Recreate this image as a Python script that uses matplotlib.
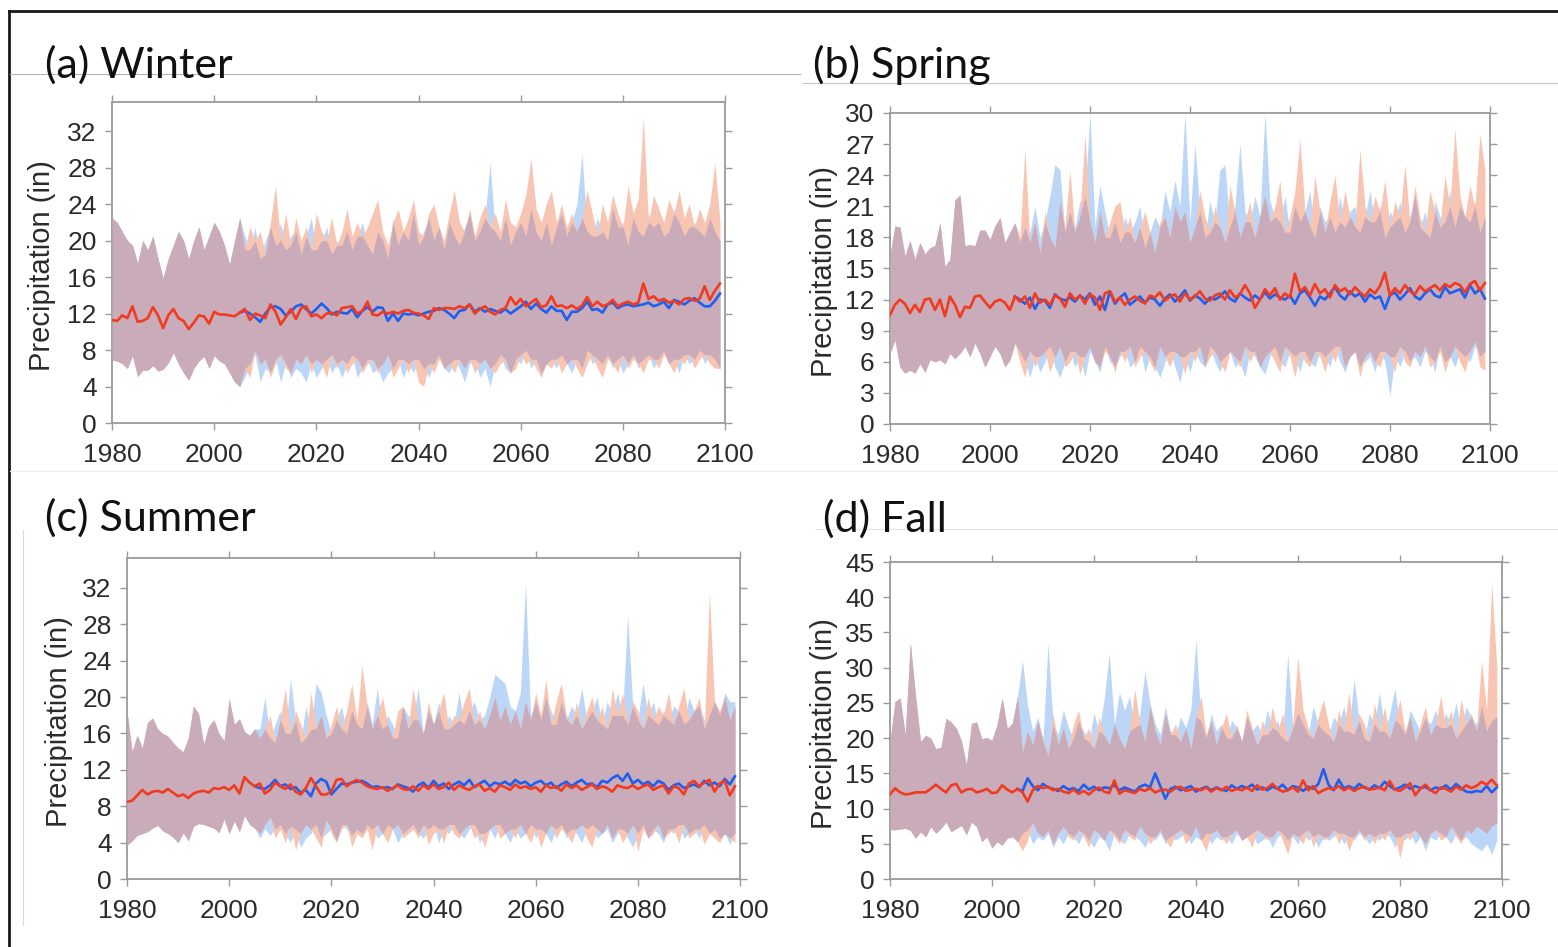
import numpy as np
import matplotlib
matplotlib.use("Agg")
import matplotlib.pyplot as plt
from matplotlib.lines import Line2D

# seasonal precipitation, ensemble mean with spread band (inches)
# 1980-2005 is the shared historical run, 2006-2099 splits into two scenarios
years = np.arange(1980, 2100)
n_hist = 26

seasons = ["(a) Winter", "(b) Spring", "(c) Summer", "(d) Fall"]

# ---------------- Winter ----------------
win_hist_mean = [11.3, 11.2, 11.8, 11.5, 12.8, 11.1, 11.2, 11.5, 12.7, 11.8, 10.4, 11.8, 12.5,
                 11.5, 11.2, 10.3, 11.0, 11.8, 11.7, 10.9, 12.2, 11.9, 11.9, 11.8, 11.7, 12.1]
win_hist_up = [22.5, 22.0, 21.0, 20.0, 19.5, 17.5, 20.0, 19.0, 20.5, 18.0, 15.9, 18.0, 19.5,
               21.0, 20.0, 18.0, 20.0, 21.5, 19.0, 20.5, 22.0, 21.0, 19.5, 17.4, 20.0, 22.5]
win_hist_lo = [6.9, 6.8, 6.5, 6.0, 7.4, 5.1, 5.8, 5.8, 6.3, 5.7, 5.9, 6.6, 7.7,
               6.5, 5.5, 4.7, 6.0, 6.8, 7.3, 6.0, 7.4, 6.8, 6.5, 5.5, 4.5, 4.0]
win_blue_mean = [12.3, 12.0, 11.6, 11.1, 12.0, 12.7, 12.8, 12.5, 11.8, 12.2,
                 12.8, 13.0, 12.5, 12.0, 12.5, 13.1, 12.6, 11.9, 12.2, 12.1,
                 12.0, 12.5, 11.6, 12.3, 12.7, 12.2, 12.7, 12.6, 11.2, 12.0,
                 11.2, 12.0, 11.9, 12.0, 11.8, 12.0, 12.2, 12.3, 12.6, 12.4,
                 12.0, 11.5, 12.3, 12.4, 13.0, 12.2, 12.6, 12.2, 12.5, 12.3,
                 12.1, 12.5, 12.0, 12.4, 12.8, 13.3, 12.5, 13.1, 12.5, 12.1,
                 12.8, 12.3, 12.3, 11.3, 12.2, 12.2, 12.6, 13.3, 12.4, 12.5,
                 12.1, 13.0, 13.2, 12.6, 12.9, 13.0, 12.8, 12.9, 13.0, 13.2,
                 12.8, 13.0, 13.3, 12.6, 13.5, 13.3, 13.0, 13.4, 13.7, 13.2,
                 12.8, 12.8, 13.4, 14.2]
win_red_mean = [12.5, 11.3, 12.0, 11.8, 11.5, 13.0, 12.2, 10.8, 11.6, 12.5,
                11.4, 12.6, 12.8, 11.7, 11.9, 11.5, 12.0, 12.1, 11.8, 12.6,
                12.7, 12.8, 12.0, 12.3, 13.3, 11.9, 11.8, 12.2, 12.0, 12.2,
                12.0, 12.3, 12.4, 12.1, 12.0, 11.8, 11.4, 12.6, 12.4, 12.6,
                12.6, 12.5, 12.8, 12.6, 13.0, 12.0, 12.5, 12.8, 12.2, 11.9,
                12.4, 12.6, 13.8, 13.0, 13.6, 12.8, 13.2, 13.6, 12.7, 12.9,
                13.9, 12.8, 12.9, 12.6, 12.9, 12.5, 12.9, 13.8, 12.8, 13.3,
                12.8, 13.0, 13.5, 12.8, 13.1, 13.3, 13.0, 13.2, 15.3, 13.6,
                13.9, 13.4, 13.6, 13.2, 13.4, 13.0, 13.6, 13.7, 13.4, 13.6,
                15.0, 13.5, 14.5, 15.3]
win_blue_up = [20.5, 19.0, 21.5, 18.0, 20.0, 21.5, 19.5, 22.0, 19.0, 20.5,
               21.0, 18.5, 20.5, 22.5, 19.0, 20.0, 21.5, 18.5, 20.0, 19.5,
               21.0, 19.0, 20.5, 22.0, 19.5, 18.5, 21.0, 20.0, 18.0, 22.5,
               19.5, 21.0, 20.0, 23.0, 19.5, 21.0, 22.5, 20.0, 21.5, 19.0,
               22.0, 20.5, 19.5, 21.5, 23.0, 20.0, 21.0, 22.5, 28.5, 21.0,
               20.0, 22.5, 19.5, 21.0, 22.0, 20.5, 23.5, 21.0, 20.0, 22.0,
               19.5, 21.5, 23.0, 20.5, 22.0, 24.0, 29.5, 21.0, 20.5, 22.5,
               21.0, 20.0, 23.5, 21.5, 22.0, 19.5, 22.5, 21.0, 20.5, 23.0,
               21.5, 22.0, 20.5, 21.0, 23.5, 22.0, 20.5, 21.5, 22.0, 21.0,
               20.5, 22.5, 21.0, 20.0]
win_red_up = [19.0, 21.5, 20.0, 21.0, 18.5, 22.0, 26.0, 20.0, 23.0, 19.5,
              22.5, 20.0, 21.5, 19.0, 23.0, 21.0, 20.0, 22.5, 19.5, 21.0,
              23.5, 20.5, 22.0, 20.5, 21.5, 23.0, 24.5, 21.0, 19.5, 22.0,
              23.5, 21.0, 22.5, 24.5, 21.0, 20.5, 23.0, 24.0, 21.5, 20.0,
              23.0, 25.5, 22.0, 21.0, 23.5, 20.5, 22.5, 24.0, 21.5, 23.0,
              21.0, 24.5, 22.0, 21.5, 23.0, 25.0, 29.0, 23.5, 22.0, 24.0,
              25.5, 22.0, 24.0, 21.5, 23.0, 21.0, 22.5, 25.5, 23.0, 20.5,
              24.0, 22.0, 25.0, 23.0, 21.5, 26.0, 23.0, 24.5, 33.5, 22.0,
              25.0, 23.5, 22.0, 24.5, 23.0, 25.5, 22.5, 24.0, 21.5, 23.5,
              22.0, 24.0, 28.5, 22.0]
win_blue_lo = [5.0, 6.5, 7.5, 4.5, 6.0, 5.5, 7.0, 4.5, 6.5, 5.0,
               6.0, 5.5, 4.5, 6.5, 5.0, 6.0, 7.0, 5.5, 6.5, 5.0,
               6.5, 7.5, 5.0, 6.0, 7.0, 5.5, 6.0, 4.5, 5.5, 6.0,
               7.0, 5.0, 6.5, 5.5, 7.0, 6.0, 5.0, 6.5, 7.5, 6.0,
               5.5, 7.0, 6.0, 4.5, 6.5, 7.0, 5.0, 6.0, 4.0, 6.5,
               7.5, 6.0, 5.5, 7.0, 6.5, 8.0, 6.0, 7.0, 5.5, 6.5,
               7.0, 6.0, 7.5, 6.5, 5.5, 7.0, 6.0, 8.0, 6.5, 7.0,
               6.5, 7.5, 6.0, 7.0, 5.5, 6.5, 7.5, 6.0, 7.0, 7.5,
               6.0, 7.0, 8.0, 6.5, 7.0, 5.5, 7.5, 6.5, 7.0, 8.0,
               6.5, 7.5, 7.0, 6.0]
win_red_lo = [6.0, 5.0, 8.0, 6.5, 7.0, 5.0, 6.5, 7.5, 6.0, 5.5,
              7.0, 6.5, 7.5, 5.5, 7.0, 6.5, 5.0, 7.5, 6.0, 7.0,
              5.5, 6.5, 7.0, 5.5, 6.5, 7.0, 5.5, 6.5, 7.5, 5.0,
              6.0, 7.0, 5.5, 7.0, 4.5, 4.0, 6.5, 5.5, 7.0, 6.0,
              6.5, 5.5, 7.0, 6.0, 7.0, 5.5, 6.5, 7.0, 6.0, 5.5,
              6.5, 7.0, 5.5, 6.0, 7.5, 6.5, 7.0, 6.0, 5.0, 6.5,
              6.0, 7.0, 5.5, 6.5, 7.0, 6.0, 5.0, 6.5, 7.5, 6.0,
              5.0, 7.0, 6.5, 5.5, 7.5, 6.0, 7.0, 6.5, 5.5, 7.0,
              7.0, 6.0, 7.5, 6.5, 5.5, 7.0, 6.5, 7.5, 6.0, 7.0,
              7.5, 6.5, 6.0, 6.0]

# ---------------- Spring ----------------
spr_hist_mean = [10.5, 11.5, 12.0, 11.6, 10.7, 11.5, 10.8, 12.0, 12.1, 11.0, 12.0, 10.4, 12.3,
                 11.5, 10.3, 11.3, 11.2, 12.3, 12.4, 11.8, 11.2, 11.8, 12.0, 11.7, 11.0, 12.3]
spr_hist_up = [16.2, 19.1, 19.0, 16.2, 17.7, 15.9, 17.5, 16.4, 17.0, 17.2, 19.4, 15.2, 15.9,
               21.6, 22.1, 17.2, 17.3, 17.2, 18.7, 18.7, 17.8, 19.1, 19.9, 17.5, 18.5, 19.4]
spr_hist_lo = [6.8, 8.1, 5.5, 4.9, 5.2, 4.9, 5.8, 5.0, 6.2, 6.0, 6.2, 5.8, 6.8,
               6.3, 6.8, 7.5, 6.5, 7.8, 6.8, 5.5, 6.5, 7.5, 6.8, 5.5, 6.2, 7.8]
spr_blue_mean = [12.0, 11.6, 12.2, 11.1, 12.0, 11.9, 11.2, 12.5, 12.1, 11.9,
                 12.2, 11.8, 12.4, 12.0, 12.6, 11.5, 12.3, 11.0, 12.8, 11.6,
                 12.2, 12.6, 11.5, 11.9, 12.3, 11.7, 12.2, 12.0, 11.4, 12.1,
                 12.5, 11.8, 12.3, 12.9, 11.9, 12.4, 12.1, 11.6, 12.2, 12.0,
                 12.3, 12.8, 12.1, 11.8, 12.6, 12.2, 11.9, 12.4, 12.0, 12.7,
                 12.1, 12.5, 12.2, 12.0, 12.4, 11.6, 12.6, 12.9, 12.2, 11.4,
                 12.3, 12.0, 12.6, 13.2, 12.4, 12.0, 12.8, 12.3, 12.6, 11.8,
                 12.5, 12.1, 12.3, 11.1, 12.4, 12.7, 12.0, 12.5, 13.1, 12.3,
                 12.0, 12.6, 13.0, 12.4, 12.2, 13.2, 12.6, 12.8, 13.0, 12.2,
                 13.4, 12.6, 13.0, 12.1]
spr_red_mean = [11.8, 12.3, 11.2, 12.6, 11.7, 12.0, 11.5, 12.4, 12.1, 11.3,
                12.6, 12.0, 12.4, 11.6, 12.5, 12.2, 11.0, 12.6, 12.8, 11.8,
                12.2, 11.5, 12.0, 12.3, 11.9, 11.6, 12.4, 12.2, 12.7, 11.9,
                12.3, 12.5, 11.8, 12.6, 12.0, 12.3, 12.8, 12.1, 11.9, 12.4,
                12.6, 12.0, 12.9, 12.2, 12.5, 13.4, 12.6, 11.2, 12.0, 13.0,
                12.4, 13.1, 12.0, 12.6, 12.2, 14.5, 12.8, 13.2, 12.4, 13.5,
                12.6, 13.0, 12.2, 13.4, 12.8, 13.1, 12.5, 13.2, 12.7, 12.3,
                13.0, 12.6, 13.3, 14.6, 12.4, 13.1, 12.6, 13.4, 12.8, 12.5,
                13.3, 12.8, 13.1, 13.4, 12.9, 13.5, 13.2, 13.6, 13.4, 12.7,
                13.5, 13.8, 12.9, 13.6]
spr_blue_up = [17.5, 19.0, 18.5, 21.0, 18.0, 19.5, 22.0, 25.0, 24.5, 18.5,
               20.5, 19.0, 21.5, 22.0, 30.0, 19.0, 23.0, 20.5, 18.0, 19.5,
               17.5, 20.0, 18.5, 19.5, 21.0, 17.0, 18.5, 20.0, 19.0, 22.5,
               20.5, 23.5, 21.0, 30.0, 19.5, 27.0, 20.5, 18.0, 21.5, 19.5,
               24.5, 25.0, 19.0, 21.0, 27.0, 20.5, 19.5, 22.0, 20.0, 30.0,
               21.5, 20.0, 19.5, 22.0, 18.5, 21.0, 19.5, 20.5, 22.5, 18.0,
               21.0, 19.5, 20.0, 18.5, 22.0, 19.0, 20.5, 21.0, 18.5, 20.0,
               22.5, 19.5, 21.0, 18.0, 20.5, 19.5, 21.5, 18.5, 20.0, 22.0,
               19.0, 20.5, 18.0, 21.5, 20.0, 19.5, 22.5, 19.0, 21.0, 20.0,
               19.5, 21.5, 18.5, 20.0]
spr_red_up = [18.0, 26.5, 17.5, 19.5, 16.5, 20.5, 18.0, 17.0, 21.5, 19.0,
              24.5, 18.5, 20.0, 28.0, 19.5, 17.5, 20.5, 18.0, 19.5, 21.0,
              21.5, 18.5, 20.0, 17.5, 19.0, 20.5, 18.5, 16.5, 19.5, 20.0,
              18.0, 21.0, 19.5, 20.5, 17.5, 19.0, 22.5, 20.0, 18.5, 21.0,
              19.0, 17.5, 23.0, 20.5, 18.0, 19.5, 21.5, 18.0, 20.0, 22.0,
              19.5, 21.0, 23.5, 18.5, 20.0, 22.5, 27.5, 20.5, 19.0, 24.0,
              20.5, 18.5, 21.5, 24.0, 19.5, 22.5, 20.0, 19.0, 26.5, 21.0,
              19.5, 22.0, 20.5, 23.5, 19.0, 21.5, 20.0, 25.0, 19.5, 23.0,
              20.0, 18.5, 22.5, 20.5, 19.0, 24.0, 21.0, 28.5, 22.0, 20.0,
              23.0, 21.0, 28.0, 24.5]
spr_blue_lo = [7.0, 6.0, 4.5, 6.5, 5.0, 6.0, 7.5, 5.5, 4.5, 6.0,
               7.0, 5.5, 6.5, 4.5, 7.0, 6.0, 5.0, 7.5, 6.0, 5.5,
               6.5, 7.0, 5.5, 6.0, 7.5, 5.0, 6.5, 5.5, 4.5, 6.0,
               7.0, 5.5, 4.0, 6.5, 5.0, 7.0, 6.0, 5.5, 7.5, 6.0,
               5.0, 6.5, 7.0, 5.5, 6.0, 4.5, 7.0, 6.5, 5.5, 4.8,
               6.5, 7.5, 6.0, 5.5, 7.0, 6.5, 5.0, 7.0, 6.0, 5.5,
               7.0, 6.5, 5.5, 7.5, 6.0, 5.0, 6.5, 7.0, 5.5, 6.0,
               6.5, 5.0, 7.0, 6.0, 2.7, 6.5, 5.5, 7.0, 6.0, 6.5,
               5.5, 7.0, 6.5, 5.0, 7.5, 6.0, 6.5, 5.5, 7.0, 6.5,
               6.0, 7.5, 6.5, 7.0]
spr_red_lo = [6.0, 4.5, 7.0, 5.5, 6.5, 7.0, 5.0, 6.5, 7.5, 5.5,
              6.0, 7.0, 4.8, 6.5, 7.5, 6.0, 5.5, 7.0, 6.5, 5.0,
              7.0, 6.0, 7.5, 5.5, 6.5, 7.0, 6.0, 5.0, 7.5, 6.5,
              5.5, 7.0, 6.5, 4.8, 7.0, 6.0, 7.5, 5.5, 6.5, 7.0,
              6.0, 5.0, 7.0, 6.5, 5.5, 7.5, 6.0, 7.0, 5.5, 6.5,
              7.0, 6.0, 5.0, 7.5, 6.5, 4.5, 7.0, 6.0, 5.5, 7.0,
              6.5, 5.0, 7.0, 6.0, 7.5, 5.5, 6.5, 7.0, 4.5, 6.5,
              7.0, 6.0, 5.5, 7.0, 6.5, 5.0, 7.5, 6.0, 5.5, 7.0,
              6.5, 7.5, 5.5, 6.0, 7.0, 5.0, 6.5, 7.5, 6.0, 5.0,
              7.0, 8.0, 5.5, 5.2]

# ---------------- Summer ----------------
sum_hist_mean = [8.5, 8.6, 9.2, 9.8, 9.3, 9.6, 9.7, 9.5, 9.9, 9.5, 9.1, 9.3, 8.9,
                 9.4, 9.6, 9.7, 9.5, 10.0, 9.9, 10.1, 9.8, 10.3, 9.4, 11.2, 10.6, 10.2]
sum_hist_up = [18.4, 14.0, 15.8, 14.4, 17.2, 17.7, 16.5, 16.0, 15.7, 15.0, 14.4, 14.0, 15.5,
               19.0, 18.2, 14.8, 16.8, 17.5, 16.0, 15.2, 19.8, 17.0, 17.6, 16.2, 15.8, 16.5]
sum_hist_lo = [3.7, 4.2, 4.8, 5.0, 5.2, 5.6, 5.9, 5.3, 5.0, 4.6, 4.0, 5.1, 4.2,
               5.8, 6.1, 6.0, 5.8, 5.6, 5.1, 6.6, 5.0, 6.4, 5.2, 7.0, 6.0, 5.6]
sum_blue_mean = [10.0, 9.9, 10.3, 10.9, 10.2, 10.4, 9.9, 10.1, 9.5, 9.8,
                 9.1, 10.5, 11.0, 10.7, 9.3, 9.9, 10.5, 10.4, 10.6, 10.7,
                 10.8, 10.5, 10.1, 10.2, 10.0, 10.1, 9.9, 10.4, 10.2, 10.0,
                 9.6, 10.3, 10.6, 10.0, 10.8, 10.2, 10.5, 9.9, 10.4, 10.7,
                 10.3, 10.9, 10.1, 10.5, 10.8, 10.2, 10.6, 10.4, 10.7, 10.3,
                 10.9, 10.5, 10.7, 10.2, 10.6, 10.8, 10.3, 10.6, 10.0, 10.4,
                 10.7, 10.2, 10.6, 10.9, 10.4, 10.5, 10.1, 10.8, 10.6, 11.1,
                 11.4, 10.8, 11.6, 10.5, 10.9, 10.4, 10.7, 10.2, 10.8, 10.5,
                 9.8, 10.3, 10.5, 10.0, 10.2, 10.4, 10.1, 10.8, 10.3, 10.6,
                 10.2, 11.0, 10.4, 11.3]
sum_red_mean = [10.5, 9.4, 9.8, 10.6, 10.2, 9.9, 10.4, 9.6, 9.3, 10.0,
                11.1, 10.2, 9.3, 9.3, 9.6, 10.9, 11.0, 10.2, 10.6, 10.9,
                10.6, 10.2, 10.0, 9.9, 10.1, 9.7, 10.0, 10.3, 9.9, 9.8,
                10.2, 9.7, 10.3, 9.9, 10.4, 9.9, 10.1, 10.6, 9.8, 10.3,
                10.0, 9.8, 10.2, 10.4, 9.7, 10.0, 9.6, 10.3, 10.1, 9.8,
                10.4, 10.0, 10.2, 9.9, 10.1, 9.6, 10.3, 10.0, 10.2, 9.7,
                10.4, 10.0, 10.3, 9.8, 10.1, 10.4, 9.9, 10.2, 10.0, 9.6,
                10.3, 10.1, 10.0, 10.3, 9.9, 10.2, 10.4, 9.8, 10.1, 10.3,
                9.4, 10.2, 10.0, 9.3, 10.5, 10.8, 10.2, 10.6, 10.9, 9.6,
                10.5, 10.8, 9.2, 10.2]
sum_blue_up = [16.5, 20.0, 15.5, 17.0, 18.5, 16.0, 22.0, 17.5, 15.0, 19.0,
               16.5, 21.5, 20.5, 18.0, 16.0, 17.5, 19.0, 16.0, 18.5, 17.0,
               16.5, 19.5, 17.0, 21.0, 16.5, 18.0, 17.0, 15.5, 19.0, 18.0,
               17.5, 21.0, 16.0, 18.5, 17.0, 19.5, 16.5, 18.0, 17.0, 20.5,
               17.0, 18.5, 19.5, 17.5, 18.0, 20.0, 22.5, 22.0, 21.5, 19.0,
               18.5, 20.5, 32.5, 18.0, 19.5, 17.5, 20.0, 18.5, 17.0, 19.5,
               17.5, 19.0, 18.0, 21.0, 17.5, 18.5, 20.0, 17.0, 19.5, 18.0,
               20.5, 18.0, 29.0, 19.0, 17.5, 21.5, 18.0, 19.5, 17.0, 18.5,
               17.5, 19.0, 18.5, 17.0, 20.0, 18.5, 19.0, 17.5, 18.0, 19.5,
               18.0, 20.5, 19.5, 19.5]
sum_red_up = [15.5, 16.5, 18.0, 15.0, 17.5, 21.0, 16.0, 18.5, 17.0, 15.5,
              20.5, 16.5, 18.0, 15.5, 17.0, 19.0, 16.5, 18.5, 21.5, 17.5,
              23.5, 19.0, 16.5, 18.0, 20.0, 17.0, 15.5, 18.5, 19.0, 16.5,
              21.0, 17.5, 16.0, 19.5, 17.0, 18.5, 20.5, 16.5, 18.0, 17.5,
              19.5, 21.0, 17.0, 18.5, 16.5, 18.0, 20.0, 17.5, 19.0, 17.0,
              18.5, 16.5, 19.5, 17.5, 20.5, 18.0, 22.0, 17.0, 19.5, 21.5,
              18.0, 17.0, 19.5, 16.5, 18.5, 20.0, 17.5, 19.0, 16.5, 21.0,
              18.0, 20.5, 17.0, 19.5, 18.5, 16.5, 20.0, 17.5, 19.0, 18.0,
              20.5, 17.0, 19.0, 21.0, 17.5, 18.5, 20.0, 16.5, 31.5, 19.5,
              18.5, 20.0, 17.5, 19.0]
sum_blue_lo = [4.5, 5.5, 4.8, 5.5, 6.0, 5.0, 4.0, 5.5, 3.5, 4.5,
               5.0, 6.0, 4.5, 5.0, 5.5, 4.2, 6.0, 5.5, 4.8, 5.5,
               5.0, 6.0, 5.5, 4.5, 5.0, 6.0, 5.5, 4.0, 5.0, 5.5,
               6.0, 5.0, 4.5, 5.5, 6.0, 4.0, 5.5, 5.0, 6.0, 5.0,
               4.5, 5.5, 6.0, 4.0, 5.0, 5.5, 4.5, 6.0, 5.0, 4.0,
               5.5, 4.5, 5.0, 6.0, 4.5, 5.5, 5.0, 4.0, 5.5, 6.0,
               4.5, 5.5, 5.0, 4.0, 5.5, 6.0, 4.5, 5.0, 5.5, 4.0,
               5.0, 5.5, 4.5, 3.5, 5.0, 6.0, 4.5, 5.5, 5.0, 4.0,
               5.5, 5.0, 6.0, 4.5, 5.0, 5.5, 4.5, 6.0, 5.0, 5.5,
               4.5, 5.0, 3.8, 5.0]
sum_red_lo = [5.0, 6.0, 6.8, 4.5, 5.5, 4.0, 5.8, 3.2, 5.0, 6.0,
              5.5, 4.5, 3.5, 6.5, 5.0, 4.0, 5.5, 6.0, 3.5, 5.0,
              4.5, 5.5, 3.2, 6.0, 5.0, 4.0, 5.5, 6.0, 4.5, 5.0,
              5.5, 4.5, 6.0, 3.8, 5.0, 5.5, 4.0, 6.0, 5.0, 4.5,
              5.5, 6.0, 4.5, 5.0, 3.5, 5.5, 6.0, 4.5, 5.0, 5.5,
              4.5, 6.0, 5.0, 4.0, 5.5, 3.5, 5.0, 6.0, 4.5, 5.5,
              5.0, 4.0, 5.5, 6.0, 4.5, 3.5, 5.5, 5.0, 6.0, 4.5,
              5.5, 4.0, 5.0, 6.0, 3.0, 5.5, 4.5, 5.0, 6.0, 4.5,
              5.0, 5.5, 4.0, 6.0, 4.5, 5.0, 5.5, 3.8, 5.0, 4.5,
              4.0, 5.0, 4.5, 4.0]

# ---------------- Fall ----------------
fal_hist_mean = [12.0, 12.9, 12.3, 12.0, 12.1, 12.3, 12.3, 12.3, 12.8, 13.4, 12.8, 12.3, 13.3,
                 13.5, 12.3, 12.7, 12.8, 12.3, 12.5, 12.8, 12.2, 12.3, 13.3, 12.7, 12.3, 12.8]
fal_hist_up = [19.5, 25.2, 25.7, 20.4, 33.5, 26.1, 19.5, 20.4, 20.0, 18.5, 18.7, 22.8, 22.3,
               21.4, 19.7, 16.2, 22.1, 22.3, 19.9, 20.1, 19.7, 21.9, 25.7, 21.4, 22.1, 25.9]
fal_hist_lo = [7.0, 7.0, 7.1, 7.2, 6.9, 5.8, 6.7, 6.0, 7.4, 6.5, 7.2, 8.1, 6.7,
               7.2, 7.6, 6.3, 8.1, 7.4, 5.3, 6.0, 4.4, 5.3, 4.8, 5.8, 6.0, 5.3]
fal_blue_mean = [12.5, 14.3, 13.2, 12.6, 13.5, 13.0, 12.8, 12.5, 13.2, 12.7,
                 12.9, 12.5, 13.4, 12.7, 13.1, 12.6, 13.0, 12.9, 13.3, 12.6,
                 13.0, 12.7, 12.4, 13.1, 13.4, 13.0, 15.0, 13.2, 11.4, 12.8,
                 13.1, 12.6, 12.9, 13.2, 12.4, 12.8, 13.1, 12.6, 13.0, 12.7,
                 12.5, 13.3, 12.8, 13.2, 12.9, 13.4, 12.7, 13.0, 12.6, 13.1,
                 12.8, 13.4, 12.6, 13.2, 13.0, 12.5, 13.1, 12.8, 13.5, 15.6,
                 13.4, 12.6, 14.1, 12.9, 13.2, 12.8, 13.5, 13.0, 12.7, 13.3,
                 12.9, 13.8, 13.2, 12.7, 13.0, 13.4, 12.8, 13.2, 12.9, 13.1,
                 12.6, 13.0, 12.8, 13.3, 12.7, 13.5, 12.9, 12.4, 12.3, 12.5,
                 12.4, 13.2, 12.3, 13.0]
fal_red_mean = [12.3, 11.0, 12.6, 13.2, 12.9, 13.1, 12.6, 12.8, 12.4, 12.2,
                12.7, 12.1, 12.5, 12.0, 12.6, 13.0, 12.4, 12.2, 14.0, 12.1,
                12.6, 12.4, 12.2, 12.8, 12.5, 12.9, 12.3, 12.6, 12.7, 12.4,
                12.9, 13.1, 12.5, 12.7, 12.8, 12.6, 13.0, 12.4, 12.9, 12.6,
                13.1, 12.5, 12.8, 12.6, 13.0, 12.5, 13.3, 12.7, 12.9, 13.5,
                12.8, 12.4, 12.6, 13.0, 12.4, 14.0, 12.6, 13.2, 12.2, 12.6,
                12.9, 12.7, 13.2, 12.6, 13.0, 12.5, 12.9, 13.1, 12.7, 12.8,
                13.0, 12.6, 13.9, 12.7, 12.5, 13.0, 13.6, 11.9, 12.8, 13.4,
                12.6, 12.2, 13.0, 12.8, 12.4, 13.1, 12.7, 13.3, 12.9, 13.2,
                13.8, 13.4, 14.1, 13.3]
fal_blue_up = [31.0, 24.5, 21.0, 23.0, 19.5, 33.5, 22.0, 20.5, 24.0, 21.5,
               20.0, 22.5, 21.0, 19.5, 23.5, 21.0, 25.5, 32.0, 22.0, 26.5,
               24.0, 26.0, 21.5, 23.5, 29.5, 25.0, 22.0, 20.5, 24.5, 21.0,
               20.5, 23.0, 21.5, 24.0, 34.0, 22.5, 20.0, 23.5, 21.0, 22.0,
               20.0, 22.5, 21.5, 19.5, 23.0, 21.0, 22.0, 20.5, 24.0, 21.5,
               22.5, 20.0, 32.0, 21.5, 23.5, 22.0, 20.5, 24.5, 22.0, 21.0,
               20.5, 23.0, 22.0, 24.5, 21.0, 28.5, 22.5, 20.0, 23.5, 22.0,
               26.5, 21.0, 23.5, 27.0, 22.0, 20.5, 24.0, 22.5, 21.0, 23.0,
               22.0, 24.0, 21.5, 23.5, 22.0, 25.0, 21.0, 24.5, 23.0, 22.0,
               24.5, 21.0, 22.5, 23.0]
fal_red_up = [18.0, 21.0, 19.0, 22.5, 20.0, 17.5, 23.5, 19.0, 21.5, 18.5,
              22.0, 24.0, 20.0, 21.5, 18.5, 23.0, 20.5, 19.0, 22.0, 20.0,
              18.5, 21.0, 27.0, 22.0, 19.5, 24.5, 21.0, 19.0, 23.5, 20.5,
              22.0, 19.5, 21.5, 18.5, 23.0, 26.0, 20.5, 22.5, 19.0, 21.5,
              23.5, 20.0, 22.0, 19.5, 24.0, 21.5, 19.0, 22.5, 20.5, 24.5,
              21.0, 23.5, 19.5, 22.0, 31.5, 24.0, 21.5, 20.0, 23.0, 25.5,
              22.0, 19.5, 24.0, 21.0, 26.5, 20.5, 23.5, 22.0, 19.5, 25.0,
              21.0, 24.5, 20.0, 22.5, 25.5, 21.0, 23.0, 19.5, 22.0, 24.5,
              20.5, 22.0, 26.0, 21.5, 24.0, 20.0, 25.5, 22.0, 23.5, 21.0,
              31.0, 24.0, 42.0, 30.0]
fal_blue_lo = [6.5, 7.0, 5.0, 6.0, 5.5, 6.5, 4.5, 6.0, 5.0, 6.5,
               6.0, 5.0, 6.5, 5.5, 4.5, 6.0, 5.5, 4.0, 6.5, 5.5,
               5.0, 6.5, 6.0, 5.5, 4.5, 6.0, 5.5, 6.5, 5.0, 6.0,
               5.5, 6.0, 6.5, 5.0, 6.0, 5.5, 6.5, 5.0, 6.0, 5.5,
               6.0, 5.0, 6.5, 5.5, 6.0, 6.5, 5.0, 5.5, 6.0, 4.5,
               6.0, 6.5, 5.5, 6.0, 5.0, 6.5, 5.5, 6.0, 4.5, 6.0,
               5.5, 6.0, 6.5, 5.0, 6.0, 5.5, 6.5, 6.0, 5.0, 6.0,
               5.5, 6.5, 6.0, 4.5, 6.0, 5.5, 6.5, 5.0, 6.0, 4.0,
               6.0, 5.5, 6.5, 6.0, 5.0, 6.5, 5.5, 6.0, 5.0, 4.5,
               4.0, 5.0, 3.5, 5.5]
fal_red_lo = [4.0, 5.5, 8.0, 6.5, 6.0, 7.0, 5.0, 6.5, 7.5, 6.0,
              5.5, 7.0, 6.0, 4.5, 7.0, 6.5, 5.5, 7.0, 6.0, 5.0,
              7.0, 6.0, 5.5, 7.5, 6.5, 5.0, 6.0, 7.0, 5.5, 4.5,
              6.5, 7.0, 5.0, 6.0, 7.5, 5.5, 4.0, 6.5, 7.0, 6.0,
              5.0, 6.5, 7.0, 5.5, 6.0, 4.5, 7.0, 6.5, 5.5, 6.0,
              7.0, 5.5, 3.5, 6.5, 6.0, 5.0, 7.0, 4.5, 6.5, 5.5,
              6.0, 7.0, 5.0, 6.5, 4.0, 6.0, 7.0, 5.5, 6.5, 5.0,
              6.5, 5.5, 7.0, 6.0, 3.0, 6.5, 5.5, 7.0, 6.0, 5.0,
              6.5, 7.0, 5.5, 6.0, 7.5, 6.0, 5.0, 7.0, 6.5, 7.5,
              7.0, 6.5, 7.5, 8.0]

panels = [
    (win_hist_mean, win_hist_up, win_hist_lo, win_blue_mean, win_blue_up, win_blue_lo,
     win_red_mean, win_red_up, win_red_lo),
    (spr_hist_mean, spr_hist_up, spr_hist_lo, spr_blue_mean, spr_blue_up, spr_blue_lo,
     spr_red_mean, spr_red_up, spr_red_lo),
    (sum_hist_mean, sum_hist_up, sum_hist_lo, sum_blue_mean, sum_blue_up, sum_blue_lo,
     sum_red_mean, sum_red_up, sum_red_lo),
    (fal_hist_mean, fal_hist_up, fal_hist_lo, fal_blue_mean, fal_blue_up, fal_blue_lo,
     fal_red_mean, fal_red_up, fal_red_lo),
]
ytick_sets = [np.arange(0, 33, 4), np.arange(0, 31, 3), np.arange(0, 33, 4), np.arange(0, 46, 5)]
ylims = [35.2, 30, 35.3, 45]

# axes boxes in figure fraction: left, bottom, width, height
boxes = [
    [0.0719, 0.5533, 0.3935, 0.3390],
    [0.5712, 0.5523, 0.3851, 0.3284],
    [0.0815, 0.0718, 0.3935, 0.3390],
    [0.5712, 0.0718, 0.3928, 0.3347],
]
ylabel_x = [-0.091, -0.087, -0.088, -0.085]
title_pos = [(0.029, 0.918), (0.522, 0.918), (0.029, 0.440), (0.528, 0.438)]

c_blue_band = "#bcd6f8"
c_red_band = "#f8c5b3"
c_both = "#c9abba"
c_blue = "#1f5ff0"
c_red = "#f23a1e"
c_axis = "#9a9a9a"
c_text = "#2b2b2b"

fig = plt.figure(figsize=(15.58, 9.47), dpi=100)

for i, p in enumerate(panels):
    h_mean, h_up, h_lo, b_mean, b_up, b_lo, r_mean, r_up, r_lo = [np.asarray(v, float) for v in p]
    blue_mean = np.concatenate([h_mean, b_mean])
    blue_up = np.concatenate([h_up, b_up])
    blue_lo = np.concatenate([h_lo, b_lo])
    red_mean = np.concatenate([h_mean, r_mean])
    red_up = np.concatenate([h_up, r_up])
    red_lo = np.concatenate([h_lo, r_lo])

    ax = fig.add_axes(boxes[i])
    ax.fill_between(years, blue_lo, blue_up, color=c_blue_band, lw=0, zorder=1)
    ax.fill_between(years, red_lo, red_up, color=c_red_band, lw=0, zorder=2)
    # where both ranges overlap the colours mix into mauve
    both_lo = np.maximum(blue_lo, red_lo)
    both_up = np.minimum(blue_up, red_up)
    ax.fill_between(years, both_lo, both_up, where=both_up > both_lo, interpolate=True,
                    color=c_both, lw=0, zorder=3)
    ax.plot(years[n_hist - 1:], blue_mean[n_hist - 1:], color=c_blue, lw=1.9, zorder=4)
    ax.plot(years, red_mean, color=c_red, lw=1.9, zorder=5)

    ax.set_xlim(1980, 2100)
    ax.set_ylim(0, ylims[i])
    ax.set_xticks(np.arange(1980, 2101, 20))
    ax.set_yticks(ytick_sets[i])
    ax.tick_params(direction="out", length=5, width=1, colors=c_axis, labelcolor=c_text,
                   labelsize=19, top=True, right=True)
    ax.tick_params(axis="x", pad=9.5)
    ax.tick_params(axis="y", pad=6)
    for s in ax.spines.values():
        s.set_color(c_axis)
        s.set_linewidth(1.3)
    ax.set_ylabel("Precipitation (in)", fontsize=21, color=c_text, family="Liberation Sans")
    ax.yaxis.set_label_coords(ylabel_x[i], 0.49)
    for lab in ax.get_xticklabels() + ax.get_yticklabels():
        lab.set_fontfamily("Liberation Sans")

    fig.text(title_pos[i][0], title_pos[i][1], seasons[i], fontsize=31, family="Lato",
             color="#111111", ha="left", va="baseline")

# slide frame and faint layout rules around the panels
W, H = 1558.0, 947.0
def fig_line(x0, y0, x1, y1, color, lw):
    fig.add_artist(Line2D([x0 / W, x1 / W], [1 - y0 / H, 1 - y1 / H], color=color, lw=lw,
                          transform=fig.transFigure, zorder=0))

fig_line(9, 11, 1558, 11, "#1a1a1a", 2.0)
fig_line(9, 11, 9, 947, "#1a1a1a", 2.0)
fig_line(10, 74, 800, 74, "#b5b5b5", 0.8)
fig_line(802, 83, 1558, 83, "#c8c8c8", 0.8)
fig_line(10, 471, 1558, 471, "#eeeeee", 0.8)
fig_line(815, 529, 1558, 529, "#e6e6e6", 0.8)
fig_line(23, 530, 23, 925, "#dcdcdc", 0.8)

fig.savefig("out.png", dpi=100)
